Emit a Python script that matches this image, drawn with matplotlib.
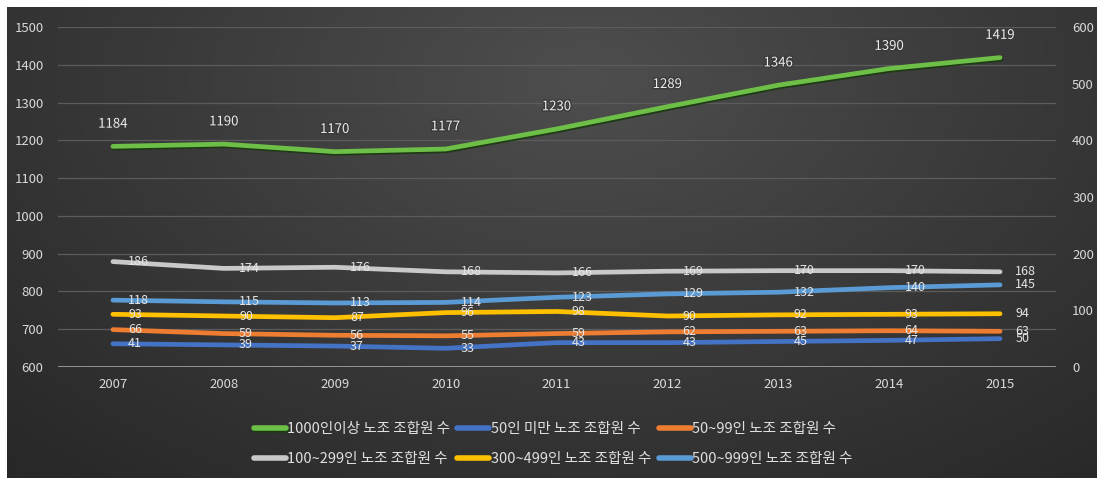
import numpy as np
import matplotlib
matplotlib.use("Agg")
import matplotlib.pyplot as plt
from matplotlib import patheffects as pe
from matplotlib.colors import LinearSegmentedColormap

plt.rcParams['font.family'] = ['Noto Sans CJK KR', 'DejaVu Sans']

years = ['2007', '2008', '2009', '2010', '2011', '2012', '2013', '2014', '2015']
over_1000 = [1184, 1190, 1170, 1177, 1230, 1289, 1346, 1390, 1419]
under_50 = [41, 39, 37, 33, 43, 43, 45, 47, 50]
from_50_99 = [66, 59, 56, 55, 59, 62, 63, 64, 63]
from_100_299 = [186, 174, 176, 168, 166, 169, 170, 170, 168]
from_300_499 = [93, 90, 87, 96, 98, 90, 92, 93, 94]
from_500_999 = [118, 115, 113, 114, 123, 129, 132, 140, 145]

names = ['1000인이상 노조 조합원 수', '50인 미만 노조 조합원 수', '50~99인 노조 조합원 수',
         '100~299인 노조 조합원 수', '300~499인 노조 조합원 수', '500~999인 노조 조합원 수']
colors = ['#6dbf47', '#4472c4', '#ed7d31', '#c9c9c9', '#ffc000', '#5b9bd5']

W, H = 1097, 478
fig = plt.figure(figsize=(W / 100, H / 100), dpi=100, facecolor='white')

# dark gradient panel
bg = fig.add_axes([7 / W, -0.02, 1.02 - 7 / W, 1.02 - 7 / H], zorder=-5)
gx, gy = np.meshgrid(np.linspace(0, 1, 400), np.linspace(0, 1, 200))
r = np.sqrt(((gx - 0.52) / 0.75) ** 2 + ((gy - 0.15) / 1.1) ** 2)
cmap = LinearSegmentedColormap.from_list('bgc', ['#4e4e4e', '#3a3a3a', '#282828'])
bg.imshow(np.clip(r, 0, 1), cmap=cmap, aspect='auto', extent=[0, 1, 1, 0], vmin=0, vmax=1)
bg.set_xlim(0, 1)
bg.set_ylim(1, 0)
bg.set_axis_off()

ax = fig.add_axes([57.5 / W, 1 - 367 / H, (1055.5 - 57.5) / W, (367 - 27) / H])
ax.patch.set_alpha(0)
ax2 = ax.twinx()
ax2.patch.set_alpha(0)

x = np.arange(len(years))
ax.set_xlim(-0.5, len(years) - 0.5)
ax.set_ylim(600, 1500)
ax2.set_ylim(0, 600)
ax.set_yticks(np.arange(600, 1501, 100))
ax2.set_yticks(np.arange(0, 601, 100))
ax.set_xticks(x)
ax.set_xticklabels(years)

for a in (ax, ax2):
    for s in a.spines.values():
        s.set_visible(False)
    a.tick_params(length=0, colors='#d9d9d9', labelsize=9.5)
ax.tick_params(axis='y', pad=10)
ax2.tick_params(axis='y', pad=12)
ax.tick_params(axis='x', pad=8)
ax.yaxis.grid(True, color='#5c5c5c', linewidth=0.9)
ax.set_axisbelow(True)
ax.axhline(600, color='#a8a39d', linewidth=1.2, zorder=1)

lw = 3.4
handles = []
h, = ax.plot(x, over_1000, color=colors[0], lw=lw, solid_capstyle='round', zorder=5,
             path_effects=[pe.SimpleLineShadow(offset=(0.8, -1.2), shadow_color='#1a3a10', alpha=0.9),
                           pe.Normal()])
handles.append(h)
for xi, v in zip(x, over_1000):
    ax.annotate(str(v), (xi, v), xytext=(0, 16), textcoords='offset points',
                ha='center', va='center', color='#ececec', fontsize=9.5,
                path_effects=[pe.withStroke(linewidth=2, foreground='#3a3a3a')])

series = [under_50, from_50_99, from_100_299, from_300_499, from_500_999]
for vals, c in zip(series, colors[1:]):
    h, = ax2.plot(x, vals, color=c, lw=lw, solid_capstyle='round', zorder=4)
    handles.append(h)
    for xi, v in zip(x, vals):
        ax2.annotate(str(v), (xi, v), xytext=(11, 0), textcoords='offset points',
                     ha='left', va='center', color='#e4e4e4', fontsize=9, zorder=6)

order = [0, 3, 1, 4, 2, 5]
leg = fig.legend([handles[i] for i in order], [names[i] for i in order],
                 ncol=3, loc='center', bbox_to_anchor=(553 / W, 1 - 444 / H),
                 frameon=False, fontsize=10.5, labelcolor='#e0e0e0',
                 handlelength=2.2, handletextpad=0.1, columnspacing=0.5,
                 labelspacing=1.05)
for lh in leg.get_lines():
    lh.set_linewidth(4)

fig.savefig('out.png', dpi=100, facecolor=fig.get_facecolor())
